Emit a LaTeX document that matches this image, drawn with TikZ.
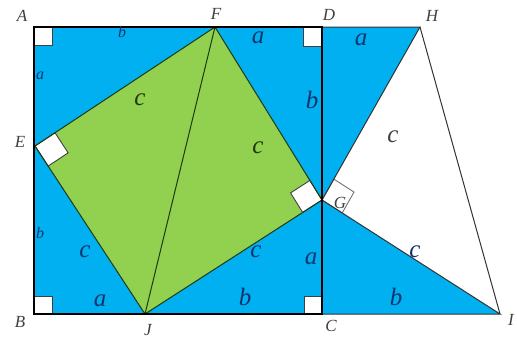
\documentclass[tikz,border=0pt]{standalone}
\usepackage{fontspec}
\setmainfont{Liberation Serif}
\usetikzlibrary{calc}
\definecolor{skyblue}{RGB}{0,176,240}
\definecolor{leafgreen}{RGB}{146,208,80}
\definecolor{navylbl}{RGB}{16,52,110}
\definecolor{darkleaf}{RGB}{30,58,16}
\begin{document}
\begin{tikzpicture}[
  x=1pt, y=-1pt,
  side/.style={font=\itshape\fontsize{25}{25}\selectfont, text=navylbl, inner sep=0pt},
  small/.style={side, font=\itshape\fontsize{16}{16}\selectfont},
  onleaf/.style={side, text=darkleaf},
  vertex/.style={font=\itshape\fontsize{17}{17}\selectfont, text=black!75, inner sep=0pt},
  rbox/.style={fill=white, draw=black!75, line width=0.9pt}
]
  \useasboundingbox (0,0) rectangle (517,343);
  \coordinate (A) at (34,27);
  \coordinate (B) at (34,314);
  \coordinate (C) at (322,314);
  \coordinate (D) at (322,27);
  \coordinate (F) at (215,27);
  \coordinate (E) at (35,146);
  \coordinate (J) at (145,314);
  \coordinate (G) at (322,200);
  \coordinate (H) at (420,27);
  \coordinate (I) at (500,314);
  % fills
  \fill[skyblue] (A) rectangle (C);
  \fill[leafgreen] (E) -- (F) -- (G) -- (J) -- cycle;
  \fill[skyblue] (D) -- (H) -- (G) -- cycle;
  \fill[skyblue] (G) -- (C) -- (I) -- cycle;
  % right angle marks
  \draw[rbox] (A) rectangle ++(18,18);
  \draw[rbox] (B) rectangle ++(18,-18);
  \draw[rbox] (C) rectangle ++(-18,-18);
  \draw[rbox] (D) rectangle ++(-19,19);
  \draw[rbox] (E) -- ($(E)!24pt!(F)$) -- ($($(E)!24pt!(F)$)+($(E)!24pt!(J)$)-(E)$) -- ($(E)!24pt!(J)$) -- cycle;
  \draw[rbox] (G) -- ($(G)!23pt!(F)$) -- ($($(G)!23pt!(F)$)+($(G)!23pt!(J)$)-(G)$) -- ($(G)!23pt!(J)$) -- cycle;
  \draw[rbox, draw=black!55] (G) -- ($(G)!24pt!(H)$) -- ($($(G)!24pt!(H)$)+($(G)!24pt!(I)$)-(G)$) -- ($(G)!24pt!(I)$) -- cycle;
  % outlines
  \draw[darkleaf, line width=1pt] (E) -- (F) -- (G) -- (J) -- cycle (F) -- (J);
  \draw[black!80, line width=1pt] (D) -- (H) -- (G) -- (I) -- (C);
  \draw[black!80, line width=1pt] (H) -- (I);
  \draw[line width=2.4pt] (A) rectangle (C);
  % vertex labels
  \node[vertex] (lA) at (22,16) {A};
  \node[vertex] (lF) at (216,14) {F};
  \node[vertex] (lD) at (329,15) {D};
  \node[vertex] (lH) at (432,16) {H};
  \node[vertex] (lE) at (20,142) {E};
  \node[vertex] (lB) at (20,322) {B};
  \node[vertex] (lJ) at (148,330) {J};
  \node[vertex] (lC) at (331,326) {C};
  \node[vertex] (lI) at (511,320) {I};
  \node[vertex] (lG) at (340,203) {G};
  % side labels
  \node[small] (sAF) at (122,32) {b};
  \node[small] (sAE) at (40,76) {a};
  \node[small] (sEB) at (40,233) {b};
  \node[side] (sFD) at (258,38) {a};
  \node[side] (sDG) at (312,100) {b};
  \node[side] (sEJ) at (85,252) {c};
  \node[side] (sBJ) at (100,301) {a};
  \node[side] (sGJ) at (256,252) {c};
  \node[side] (sJC) at (245,297) {b};
  \node[side] (sGC) at (311,259) {a};
  \node[side] (sDH) at (361,40) {a};
  \node[side] (sGI) at (415,252) {c};
  \node[side] (sCI) at (396,297) {b};
  \node[onleaf] (sEF) at (140,100) {c};
  \node[onleaf] (sFG) at (258,148) {c};
  \node[side, text=black!75] (sGH) at (393,137) {c};
\end{tikzpicture}
\end{document}
